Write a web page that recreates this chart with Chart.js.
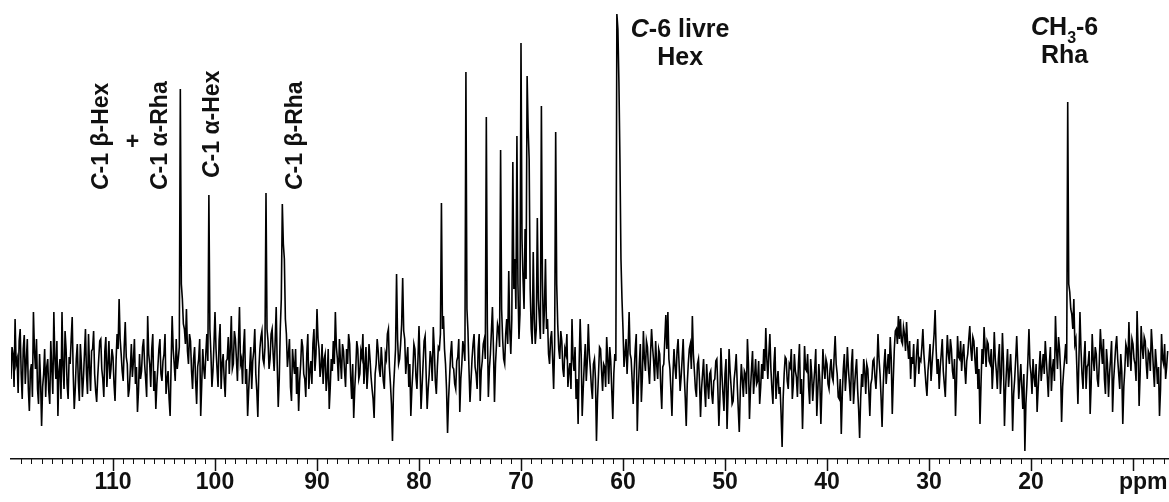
<!DOCTYPE html>
<html>
<head>
<meta charset="utf-8">
<title>13C NMR</title>
<script src="https://cdn.jsdelivr.net/npm/chart.js@4.4.3/dist/chart.umd.min.js"></script>
<style>
  html, body { margin: 0; padding: 0; background: #fff; }
  #wrap { width: 1169px; height: 502px; }
</style>
</head>
<body>
<div id="wrap"><canvas id="spec" width="1169" height="502"></canvas></div>
<script>
(function () {
  'use strict';

  // spectrum sampling: first point at 120.0 ppm, 0.1 ppm per point
  var SPEC_START = 120.0;
  var SPEC_STEP = 0.1;

  // intensities (arbitrary units), 40 points = 4 ppm per row
  var intensity = [
    80, 112, 105, 72, 140, 95, 100, 66, 118, 130, 85, 60, 110, 124, 75, 98, 120, 70, 48, 88, 95, 62, 147, 108, 90, 120, 70, 55, 105, 78, 33, 72, 85, 110, 62, 92, 100, 68, 55, 118,            // 120 - 116.1
    90, 65, 147, 100, 80, 118, 43, 88, 100, 60, 147, 92, 70, 128, 110, 75, 60, 102, 95, 120, 142, 85, 50, 70, 100, 115, 78, 58, 115, 95, 62, 80, 105, 130, 85, 65, 125, 92, 68, 108,           // 116 - 112.1
    110, 128, 85, 68, 57, 82, 100, 118, 120, 90, 80, 62, 108, 122, 72, 95, 118, 80, 90, 110, 102, 75, 58, 98, 125, 110, 160, 120, 105, 88, 78, 112, 137, 102, 95, 62, 70, 90, 115, 82,        // 112 - 108.1
    98, 120, 75, 92, 47, 68, 105, 80, 88, 112, 120, 95, 80, 62, 143, 105, 95, 72, 110, 125, 68, 88, 50, 75, 92, 110, 120, 85, 78, 98, 105, 125, 65, 80, 88, 60, 43, 95, 143, 110,             // 108 - 104.1
    95, 78, 120, 90, 100, 112, 370, 175, 160, 135, 130, 115, 150, 108, 95, 125, 118, 88, 70, 100, 112, 78, 55, 92, 100, 120, 43, 75, 110, 90, 80, 105, 125, 98, 264, 130, 105, 72, 88, 115,   // 104 - 100.1
    147, 110, 90, 72, 118, 135, 70, 95, 105, 80, 62, 98, 100, 122, 85, 110, 143, 90, 95, 128, 120, 100, 78, 115, 152, 95, 100, 75, 112, 130, 75, 90, 43, 68, 90, 112, 70, 98, 108, 130,       // 100 - 96.1
    85, 68, 42, 90, 110, 122, 128, 100, 95, 112, 266, 130, 118, 90, 100, 125, 130, 105, 88, 118, 152, 95, 52, 80, 130, 160, 255, 215, 200, 140, 125, 92, 105, 120, 72, 58, 110, 95, 85, 110,  // 96 - 92.1
    65, 92, 48, 78, 95, 120, 112, 85, 80, 62, 105, 125, 70, 88, 98, 75, 115, 130, 88, 105, 150, 120, 110, 82, 92, 115, 75, 100, 105, 68, 82, 110, 50, 72, 100, 88, 118, 95, 147, 112,         // 92 - 88.1
    100, 78, 120, 98, 80, 115, 108, 88, 72, 110, 95, 125, 115, 82, 60, 95, 41, 70, 90, 118, 110, 80, 85, 108, 102, 125, 75, 92, 112, 70, 88, 115, 100, 82, 70, 60, 41, 85, 95, 120,           // 88 - 84.1
    108, 90, 82, 112, 95, 78, 70, 105, 100, 125, 130, 92, 75, 55, 18, 70, 90, 110, 185, 120, 95, 100, 115, 135, 181, 128, 120, 85, 100, 112, 72, 95, 43, 70, 88, 115, 110, 82, 70, 100,       // 84 - 80.1
    133, 95, 50, 72, 95, 118, 123, 85, 50, 70, 85, 108, 100, 78, 132, 110, 78, 65, 92, 112, 110, 125, 256, 130, 143, 110, 95, 70, 26, 60, 82, 105, 118, 92, 90, 75, 70, 98, 102, 120,         // 80 - 76.1
    47, 80, 95, 118, 110, 98, 387, 150, 128, 90, 57, 78, 100, 115, 125, 92, 85, 70, 110, 125, 58, 88, 98, 115, 120, 100, 342, 135, 62, 90, 105, 128, 152, 110, 57, 95, 115, 135, 130, 112,    // 76 - 72.1
    309, 150, 120, 100, 95, 125, 140, 115, 188, 130, 105, 140, 297, 170, 200, 150, 323, 175, 120, 145, 416, 220, 180, 150, 230, 180, 383, 330, 300, 170, 130, 115, 207, 140, 115, 130, 241, 160, 140, 120, // 72 - 68.1
    353, 180, 125, 150, 200, 130, 140, 105, 95, 120, 128, 100, 70, 115, 327, 175, 135, 110, 100, 128, 118, 90, 82, 110, 105, 125, 72, 88, 96, 70, 140, 100, 88, 112, 60, 80, 35, 95, 140, 105, // 68 - 64.1
    43, 70, 95, 115, 78, 98, 135, 105, 90, 72, 60, 95, 100, 80, 18, 60, 85, 112, 110, 88, 68, 95, 92, 72, 122, 100, 75, 112, 98, 68, 40, 85, 105, 98, 445, 430, 377, 300, 200, 160,           // 64 - 60.1
    130, 92, 105, 120, 85, 110, 147, 105, 100, 78, 55, 88, 110, 125, 28, 70, 95, 115, 57, 82, 128, 100, 88, 118, 112, 90, 75, 105, 130, 112, 98, 78, 118, 95, 80, 110, 105, 72, 50, 92,        // 60 - 56.1
    95, 120, 144, 110, 147, 100, 90, 68, 43, 85, 110, 92, 80, 108, 120, 95, 68, 82, 100, 120, 85, 62, 33, 75, 95, 110, 115, 90, 143, 105, 88, 70, 62, 95, 100, 78, 42, 70, 85, 100,           // 56 - 52.1
    70, 52, 95, 75, 60, 85, 88, 65, 55, 78, 80, 98, 100, 70, 33, 60, 111, 85, 65, 48, 85, 100, 30, 65, 110, 88, 72, 55, 58, 80, 90, 105, 75, 50, 27, 68, 95, 80, 62, 88,                     // 52 - 48.1
    85, 65, 120, 95, 40, 70, 90, 108, 65, 82, 100, 75, 78, 98, 55, 72, 95, 80, 110, 88, 131, 100, 80, 105, 125, 90, 70, 55, 95, 112, 60, 78, 88, 65, 72, 45, 12, 60, 85, 102,                // 48 - 44.1
    100, 78, 70, 95, 92, 110, 60, 75, 105, 88, 82, 62, 95, 115, 65, 80, 30, 70, 113, 90, 88, 105, 72, 55, 100, 85, 58, 75, 90, 110, 43, 68, 95, 78, 35, 70, 110, 92, 80, 100,               // 44 - 40.1
    95, 75, 70, 90, 100, 82, 78, 102, 123, 95, 85, 62, 60, 80, 25, 65, 90, 105, 68, 85, 112, 90, 75, 58, 95, 110, 55, 72, 88, 100, 70, 50, 21, 60, 85, 72, 100, 88, 65, 95,                 // 40 - 36.1
    90, 68, 43, 75, 80, 98, 100, 82, 70, 92, 125, 100, 85, 62, 32, 70, 95, 110, 75, 90, 105, 85, 122, 100, 45, 80, 110, 128, 130, 115, 143, 120, 140, 118, 115, 132, 125, 108, 137, 115,     // 36 - 32.1
    100, 118, 80, 102, 95, 115, 72, 90, 108, 120, 85, 100, 98, 112, 130, 105, 90, 75, 63, 88, 100, 115, 78, 95, 110, 125, 149, 110, 85, 100, 70, 92, 105, 120, 88, 75, 62, 98, 124, 105,    // 32 - 28.1
    95, 120, 110, 88, 80, 100, 43, 78, 123, 102, 100, 118, 88, 105, 115, 92, 75, 98, 105, 120, 133, 110, 98, 122, 118, 100, 85, 112, 70, 90, 35, 75, 110, 95, 132, 112, 92, 118, 115, 98,     // 28 - 24.1
    95, 110, 70, 92, 127, 100, 88, 70, 100, 115, 65, 85, 126, 98, 33, 68, 90, 110, 72, 88, 105, 80, 28, 65, 80, 100, 123, 95, 60, 78, 95, 72, 50, 85, 8, 55, 75, 100, 130, 95,              // 24 - 20.1
    85, 65, 100, 82, 72, 95, 47, 70, 90, 108, 78, 92, 105, 85, 118, 100, 82, 62, 95, 112, 68, 90, 100, 78, 143, 110, 90, 122, 110, 88, 37, 72, 88, 100, 115, 95, 357, 175, 167, 150,          // 20 - 16.1
    145, 130, 160, 115, 120, 90, 55, 100, 147, 110, 85, 70, 100, 118, 70, 92, 95, 108, 45, 75, 125, 100, 88, 112, 105, 80, 72, 98, 130, 110, 95, 120, 80, 65, 110, 95, 62, 85, 100, 118,     // 16 - 12.1
    47, 78, 95, 112, 123, 100, 85, 70, 105, 88, 35, 72, 90, 115, 110, 92, 137, 105, 88, 120, 115, 100, 95, 78, 148, 110, 53, 85, 133, 112, 100, 122, 118, 95, 80, 108, 105, 88, 130, 112,     // 12 - 8.1
    90, 72, 110, 95, 75, 92, 43, 70, 125, 100, 95, 115, 80, 92, 108                                                                                                                       // 8 - 6.6
  ];

  var TICK_VALUES = [110, 100, 90, 80, 70, 60, 50, 40, 30, 20];
  var UNIT_LABEL = 'ppm';

  var FONT = "'Liberation Sans', Arial, Helvetica, sans-serif";

  // peak assignments
  var VERTICAL_LABELS = [
    { ppm: 110.5, bottom: 190, runs: [{ t: 'C', italic: true }, { t: '-1 \u03B2-Hex' }] },
    { ppm: 104.7, bottom: 190, runs: [{ t: 'C', italic: true }, { t: '-1 \u03B1-Rha' }] },
    { ppm: 99.6,  bottom: 178, runs: [{ t: 'C', italic: true }, { t: '-1 \u03B1-Hex' }] },
    { ppm: 91.5,  bottom: 190, runs: [{ t: 'C', italic: true }, { t: '-1 \u03B2-Rha' }] }
  ];
  var PLUS_LABEL = { ppm: 108.1, y: 143 };
  var STACKED_LABELS = [
    { ppm: 54.4, lines: [
      { y: 37, runs: [{ t: 'C', italic: true }, { t: '-6 livre' }] },
      { y: 65, runs: [{ t: 'Hex' }] }
    ] },
    { ppm: 16.7, lines: [
      { y: 35, runs: [{ t: 'C', italic: true }, { t: 'H' }, { t: '3', sub: true }, { t: '-6' }] },
      { y: 63, runs: [{ t: 'Rha' }] }
    ] }
  ];

  var points = intensity.map(function (v, i) {
    return { x: +(SPEC_START - i * SPEC_STEP).toFixed(1), y: v };
  });

  function runFont(r, size) {
    return (r.italic ? 'italic ' : '') + 'bold ' + Math.round(r.sub ? size * 0.62 : size) + 'px ' + FONT;
  }

  function drawRuns(ctx, runs, x, y, size, align) {
    var widths = runs.map(function (r) {
      ctx.font = runFont(r, size);
      return ctx.measureText(r.t).width;
    });
    var total = widths.reduce(function (a, b) { return a + b; }, 0);
    var cx = align === 'center' ? x - total / 2 : x;
    ctx.textAlign = 'left';
    ctx.textBaseline = 'alphabetic';
    runs.forEach(function (r, k) {
      ctx.font = runFont(r, size);
      ctx.fillText(r.t, cx, y + (r.sub ? size * 0.3 : 0));
      cx += widths[k];
    });
  }

  var annotate = {
    id: 'annotate',
    afterDraw: function (chart) {
      var ctx = chart.ctx;
      var xs = chart.scales.x;
      ctx.save();
      ctx.fillStyle = '#111';

      VERTICAL_LABELS.forEach(function (l) {
        ctx.save();
        ctx.translate(xs.getPixelForValue(l.ppm), l.bottom);
        ctx.rotate(-Math.PI / 2);
        drawRuns(ctx, l.runs, 0, 0, 23, 'left');
        ctx.restore();
      });

      ctx.font = 'bold 23px ' + FONT;
      ctx.textAlign = 'center';
      ctx.textBaseline = 'middle';
      ctx.fillText('+', xs.getPixelForValue(PLUS_LABEL.ppm), PLUS_LABEL.y);

      STACKED_LABELS.forEach(function (l) {
        var px = xs.getPixelForValue(l.ppm);
        l.lines.forEach(function (ln) { drawRuns(ctx, ln.runs, px, ln.y, 25, 'center'); });
      });

      // minor ticks every 1 ppm, major every 10
      ctx.strokeStyle = '#111';
      for (var p = Math.ceil(xs.min); p <= Math.floor(xs.max) - 1; p++) {
        var tx = Math.round(xs.getPixelForValue(p)) + 0.5;
        var major = p % 10 === 0;
        ctx.lineWidth = major ? 1.5 : 1;
        ctx.beginPath();
        ctx.moveTo(tx, xs.top);
        ctx.lineTo(tx, xs.top + (major ? 12 : 5));
        ctx.stroke();
      }

      ctx.font = 'bold 23px ' + FONT;
      ctx.textAlign = 'center';
      ctx.textBaseline = 'middle';
      ctx.fillText(UNIT_LABEL, xs.getPixelForValue(9), xs.top + 24);
      ctx.restore();
    }
  };

  new Chart(document.getElementById('spec'), {
    type: 'line',
    data: {
      datasets: [{
        data: points,
        borderColor: '#000',
        borderWidth: 1.6,
        pointRadius: 0,
        tension: 0,
        fill: false
      }]
    },
    options: {
      responsive: false,
      animation: false,
      devicePixelRatio: 1,
      layout: { padding: { left: 11, right: 0, top: 9, bottom: 0 } },
      plugins: { legend: { display: false }, tooltip: { enabled: false } },
      scales: {
        x: {
          type: 'linear',
          reverse: true,
          min: 6.47,
          max: 120,
          afterBuildTicks: function (scale) {
            scale.ticks = TICK_VALUES.map(function (v) { return { value: v }; });
          },
          afterFit: function (scale) { scale.height = 43; },
          grid: { display: false, drawTicks: false },
          border: { display: true, color: '#111', width: 1.5 },
          ticks: {
            autoSkip: false,
            maxRotation: 0,
            padding: 10,
            color: '#111',
            font: { family: FONT, size: 23, weight: 'bold' }
          }
        },
        y: {
          display: false,
          min: 0,
          max: 450
        }
      }
    },
    plugins: [annotate]
  });
})();
</script>
</body>
</html>
